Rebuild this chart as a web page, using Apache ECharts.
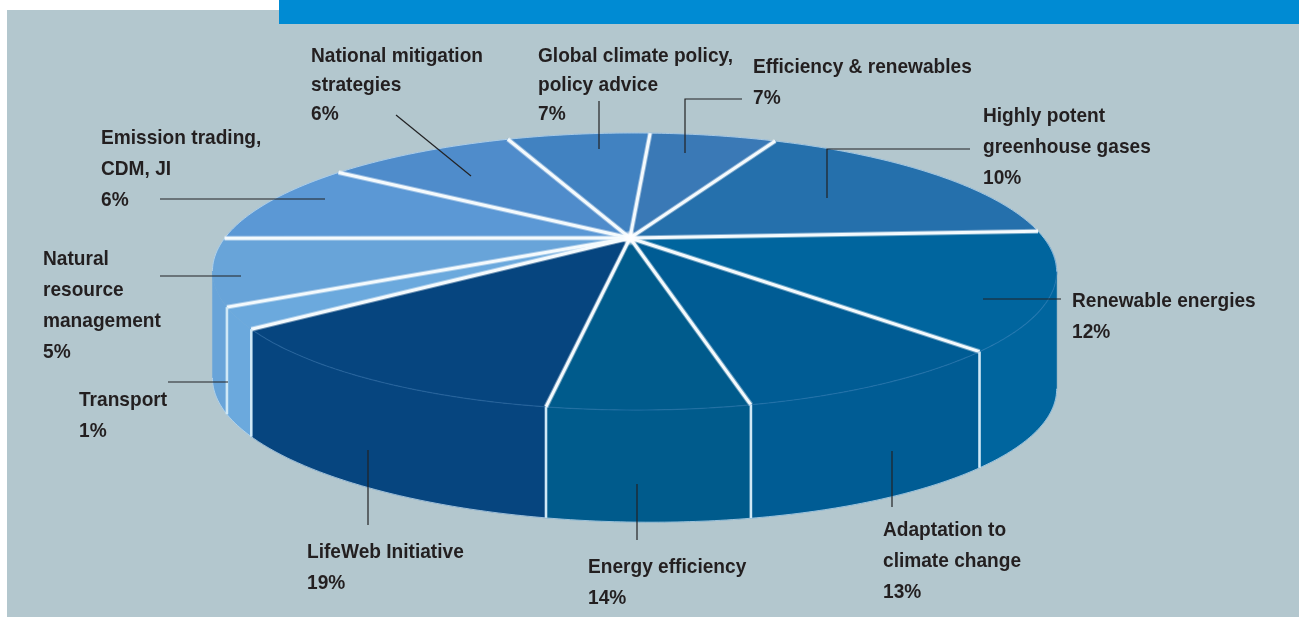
<!DOCTYPE html>
<html><head><meta charset="utf-8">
<style>html,body{margin:0;padding:0;background:#fff}#c{width:1299px;height:617px}</style>
<script src="https://cdn.jsdelivr.net/npm/echarts@6/dist/echarts.min.js"></script>
</head><body><div id="c"></div>
<script>
// Slices, clockwise from the top of the disc
const categories = ['Efficiency & renewables','Highly potent greenhouse gases','Renewable energies','Adaptation to climate change','Energy efficiency','LifeWeb Initiative','Transport','Natural resource management','Emission trading, CDM, JI','National mitigation strategies','Global climate policy, policy advice'];
// printed percentages
const percents = [7,10,12,13,14,19,1,5,6,6,7];
// width of each wedge as it is actually drawn in the picture (degrees round the disc)
const drawnDegrees = [22,61.5,48.6,31.4,22,43.9,8.8,28.2,35.3,33.3,25];
const topColors = ['#3a79b6','#2570ac','#00659e','#005c94','#005b8c','#06457f','#6ba9dd','#68a4d9','#5b98d5','#4f8ccb','#4182c1'];

// Layout (not data)
const startDeg = 3.5;
const apex = {x:630,y:238}, persp = {k:0.242,m:0.0105,a:130.4,A:409.5};
const textScaleX = 0.91;
const labelLayout = [
 {x:753,y:67,lh:31,br:'Efficiency & renewables'},
 {x:983,y:116,lh:31,br:'Highly potent\ngreenhouse gases'},
 {x:1072,y:301,lh:31,br:'Renewable energies'},
 {x:883,y:530,lh:31,br:'Adaptation to\nclimate change'},
 {x:588,y:567,lh:31,br:'Energy efficiency'},
 {x:307,y:552,lh:31,br:'LifeWeb Initiative'},
 {x:79,y:400,lh:31,br:'Transport'},
 {x:43,y:259,lh:31,br:'Natural\nresource\nmanagement'},
 {x:101,y:138,lh:31,br:'Emission trading,\nCDM, JI'},
 {x:311,y:56,lh:29,br:'National mitigation\nstrategies'},
 {x:538,y:56,lh:29,br:'Global climate policy,\npolicy advice'}
];
const leaders = [
 [[742,99],[685,99],[685,153]],
 [[970,149],[827,149],[827,198]],
 [[983,299],[1061,299]],
 [[892,451],[892,507]],
 [[637,484],[637,540]],
 [[368,450],[368,525]],
 [[168,382],[228,382]],
 [[160,276],[241,276]],
 [[160,199],[325,199]],
 [[396,115],[471,176]],
 [[599,101],[599,149]]
];

function rim(deg){
  const t=deg*Math.PI/180, u=Math.sin(t), v=-Math.cos(t), w=1-persp.k*v-persp.m*u;
  return [apex.x+persp.A*u/w, apex.y+persp.a*v/w];
}
function wallH(x){return 112+(x-apex.x)*0.012;}
function arc(a,b){const n=Math.max(2,Math.ceil(Math.abs(b-a)*1.5)),p=[];for(let i=0;i<=n;i++)p.push(rim(a+(b-a)*i/n));return p;}
const WALL_A=103.9, WALL_B=256.1;

let acc=startDeg;
const sliceData=drawnDegrees.map((d,i)=>{const r=[acc,acc+d,i,percents[i]];acc+=d;return r;});

function renderSlice(params,api){
  const a=api.value(0), b=api.value(1), i=api.value(2), c=topColors[i], kids=[];
  const lo=Math.max(a,WALL_A), hi=Math.min(b,WALL_B);
  if(hi>lo){
    const top=arc(lo,hi), bot=top.map(p=>[p[0],p[1]+wallH(p[0])]).reverse();
    kids.push({type:'polygon',shape:{points:top.concat(bot)},style:{fill:c,stroke:c,lineWidth:.5}});
  }
  kids.push({type:'polygon',shape:{points:[[apex.x,apex.y]].concat(arc(a,b))},style:{fill:c,stroke:c,lineWidth:.5}});
  return {type:'group',children:kids};
}
function renderSep(params,api){
  const a=api.value(0), b=api.value(1), i=api.value(2), kids=[];
  const p=rim(a), edge='rgba(196,222,240,0.75)';
  // soft light edge round the silhouette
  const t1=b>WALL_A?Math.min(b,WALL_A):b;
  if(a<WALL_A) kids.push({type:'polyline',shape:{points:arc(a,t1)},style:{stroke:edge,fill:'none',lineWidth:1}});
  if(b>WALL_B) kids.push({type:'polyline',shape:{points:arc(Math.max(a,WALL_B),b)},style:{stroke:edge,fill:'none',lineWidth:1}});
  const lo=Math.max(a,WALL_A), hi=Math.min(b,WALL_B);
  if(hi>lo) kids.push({type:'polyline',shape:{points:arc(lo,hi).map(q=>[q[0],q[1]+wallH(q[0])])},style:{stroke:edge,fill:'none',lineWidth:1}});
  kids.push({type:'line',shape:{x1:apex.x,y1:apex.y,x2:p[0],y2:p[1]},style:{stroke:'rgba(255,255,255,0.4)',lineWidth:5}});
  kids.push({type:'line',shape:{x1:apex.x,y1:apex.y,x2:p[0],y2:p[1]},style:{stroke:'#f4fafd',lineWidth:3}});
  if(a>WALL_A&&a<WALL_B){
    kids.push({type:'line',shape:{x1:p[0],y1:p[1],x2:p[0],y2:p[1]+wallH(p[0])},style:{stroke:'#cfe8f6',lineWidth:2.6}});
  }
  const rl=Math.max(a,92), rh=Math.min(b,233);
  if(rh>rl&&i<6) kids.push({type:'polyline',shape:{points:arc(rl,rh)},style:{stroke:'rgba(90,150,205,0.3)',fill:'none',lineWidth:1.2}});
  if(i===0) kids.push({type:'circle',shape:{cx:apex.x,cy:apex.y,r:8},style:{fill:{type:'radial',x:.5,y:.5,r:.5,colorStops:[{offset:0,color:'rgba(255,255,255,1)'},{offset:.45,color:'rgba(255,255,255,.85)'},{offset:1,color:'rgba(255,255,255,0)'}]}},z2:5});
  return {type:'group',children:kids};
}

const graphics=[
 {type:'rect',z:-10,shape:{x:7,y:10,width:1292,height:607},style:{fill:'#b3c7ce'}},
 {type:'rect',z:-9,shape:{x:279,y:0,width:1020,height:24},style:{fill:'#008bd3'}}
];
leaders.forEach(pts=>graphics.push({type:'polyline',z:50,shape:{points:pts},style:{stroke:'#222224',lineWidth:1.2,fill:'none'}}));
labelLayout.forEach((l,i)=>graphics.push({type:'text',z:60,x:l.x,y:l.y-l.lh/2+0.5,scaleX:textScaleX,style:{
  text:l.br+'\n'+percents[i]+'%',font:'bold 21px "Liberation Sans",sans-serif',lineHeight:l.lh,fill:'#231f20',textAlign:'left',textVerticalAlign:'top'}}));

const chart=echarts.init(document.getElementById('c'),null,{renderer:'canvas'});
chart.setOption({
  animation:false,backgroundColor:'#ffffff',
  graphic:{elements:graphics},
  tooltip:{show:false},
  series:[
    {type:'custom',name:'Slices',coordinateSystem:'none',renderItem:renderSlice,data:sliceData,z:2,silent:true,clip:false},
    {type:'custom',name:'Separators',coordinateSystem:'none',renderItem:renderSep,data:sliceData,z:3,silent:true,clip:false}
  ]
});
</script></body></html>
